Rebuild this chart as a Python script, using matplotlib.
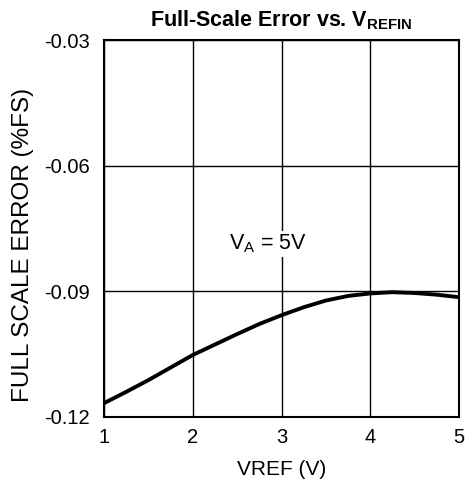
import matplotlib
matplotlib.use('Agg')
import matplotlib.pyplot as plt
import numpy as np

plt.rcParams['font.family'] = ['Liberation Sans', 'DejaVu Sans']
plt.rcParams['mathtext.fontset'] = 'custom'
plt.rcParams['mathtext.rm'] = 'Liberation Sans'
plt.rcParams['mathtext.bf'] = 'Liberation Sans:bold'

# values
vref = [1.0, 1.25, 1.5, 1.75, 2.0, 2.25, 2.5, 2.75, 3.0, 3.25, 3.5, 3.75, 4.0, 4.25, 4.5, 4.75, 5.0]
fs_error = [-0.1167, -0.1140, -0.1112, -0.1082, -0.1052, -0.1027, -0.1002, -0.0978, -0.0957,
            -0.0938, -0.0922, -0.0911, -0.0905, -0.0902, -0.0904, -0.0908, -0.0914]

x_ticks = [1, 2, 3, 4, 5]
y_ticks = [-0.12, -0.09, -0.06, -0.03]
y_labels = ['-0.12', '-0.09', '-0.06', '-0.03']

fig = plt.figure(figsize=(4.65, 4.87), dpi=100)
ax = fig.add_axes([104 / 465, 70 / 487, 355 / 465, 377 / 487])

ax.plot(vref, fs_error, color='black', linewidth=2.8, solid_capstyle='butt')

ax.set_xlim(1, 5)
ax.set_ylim(-0.12, -0.03)
ax.set_xticks(x_ticks)
ax.set_yticks(y_ticks)
ax.set_yticklabels(y_labels)
ax.tick_params(length=0, labelsize=14.5, pad=8)
ax.tick_params(axis='y', pad=10)
ax.grid(True, color='black', linewidth=1.0)
for s in ax.spines.values():
    s.set_linewidth(1.5)

ax.set_xlabel('VREF (V)', fontsize=15, labelpad=9)
ax.set_ylabel('FULL SCALE ERROR (%FS)', fontsize=17.5)
ax.yaxis.set_label_coords(-0.198, 0.456)
ax.set_title(r'Full-Scale Error vs. V$_{\mathbf{REFIN}}$', fontsize=15.5,
             fontweight='bold', pad=10)

ax.text(2.85, -0.0787, r'V$_{\mathrm{A}}$ = 5V', fontsize=15.5, ha='center', va='center',
        bbox=dict(facecolor='white', edgecolor='none', pad=1))

fig.savefig('out.png', dpi=100)
